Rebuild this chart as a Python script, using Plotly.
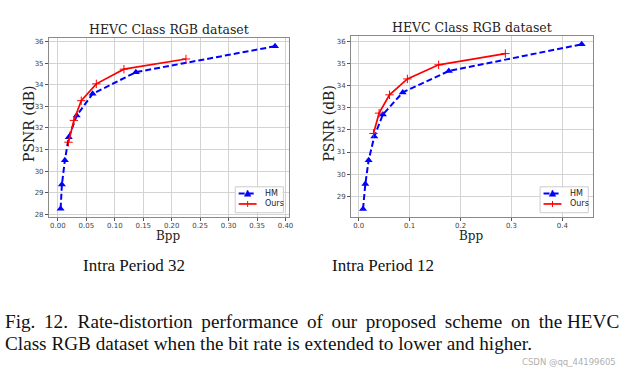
import plotly.graph_objects as go

# Intra Period 32
hm32_bpp = [0.0047, 0.0070, 0.0122, 0.0190, 0.0330, 0.0610, 0.1370, 0.3816]
hm32_psnr = [28.26, 29.38, 30.50, 31.57, 32.57, 33.58, 34.58, 35.78]
ours32_bpp = [0.0186, 0.0280, 0.0410, 0.0675, 0.1160, 0.2250]
ours32_psnr = [31.34, 32.35, 33.26, 34.04, 34.72, 35.19]

# Intra Period 12
hm12_bpp = [0.0085, 0.0130, 0.0195, 0.0306, 0.0475, 0.0865, 0.1770, 0.4380]
hm12_psnr = [28.42, 29.55, 30.63, 31.70, 32.70, 33.70, 34.67, 35.88]
ours12_bpp = [0.0290, 0.0400, 0.0605, 0.0956, 0.1570, 0.2880]
ours12_psnr = [31.84, 32.76, 33.59, 34.31, 34.95, 35.46]

series_names = ["HM", "Ours"]

x32_ticks = [0.00, 0.05, 0.10, 0.15, 0.20, 0.25, 0.30, 0.35, 0.40]
x32_labels = ["0.00", "0.05", "0.10", "0.15", "0.20", "0.25", "0.30", "0.35", "0.40"]
y32_ticks = [28, 29, 30, 31, 32, 33, 34, 35, 36]
x12_ticks = [0.0, 0.1, 0.2, 0.3, 0.4]
x12_labels = ["0.0", "0.1", "0.2", "0.3", "0.4"]
y12_ticks = [29, 30, 31, 32, 33, 34, 35, 36]

W, H = 633, 374
BLUE = "#0000ff"
RED = "#ff0000"

fig = go.Figure()

def add_pair(hx, hy, ox, oy, xa, ya):
    fig.add_trace(go.Scatter(
        x=hx, y=hy, mode="lines+markers", name=series_names[0], xaxis=xa, yaxis=ya,
        showlegend=False,
        line=dict(color=BLUE, width=2, dash="6px,3px"),
        marker=dict(symbol="triangle-up", size=7, color=BLUE)))
    fig.add_trace(go.Scatter(
        x=ox, y=oy, mode="lines+markers", name=series_names[1], xaxis=xa, yaxis=ya,
        showlegend=False,
        line=dict(color=RED, width=1.7),
        marker=dict(symbol="cross-thin", size=6, line=dict(color=RED, width=1))))

add_pair(hm32_bpp, hm32_psnr, ours32_bpp, ours32_psnr, "x", "y")
add_pair(hm12_bpp, hm12_psnr, ours12_bpp, ours12_psnr, "x2", "y2")

tickfont = dict(family="DejaVu Sans", size=7, color="#444")
common = dict(showgrid=True, gridcolor="#d3d3d3", gridwidth=1, showline=True,
              linecolor="#8a8a8a", linewidth=1, mirror=True, ticks="outside",
              ticklen=3, tickcolor="#555", tickfont=tickfont, zeroline=False)

def px_x(p):
    return p / W

def px_y(p):
    return 1 - p / H

fig.update_layout(
    width=W, height=H, margin=dict(l=0, r=0, t=0, b=0),
    paper_bgcolor="white", plot_bgcolor="white", showlegend=False,
    xaxis=dict(domain=[px_x(49.3), px_x(291)], range=[-0.0157, 0.4064],
               tickvals=x32_ticks, ticktext=x32_labels, anchor="y",
               ticklabelstandoff=-2, **common),
    yaxis=dict(domain=[px_y(218), px_y(37.7)], range=[27.86, 36.18],
               tickvals=y32_ticks, anchor="x", **common),
    xaxis2=dict(domain=[px_x(353.3), px_x(596.7)], range=[-0.015, 0.46],
                tickvals=x12_ticks, ticktext=x12_labels, anchor="y2",
                ticklabelstandoff=-2, **common),
    yaxis2=dict(domain=[px_y(217.7), px_y(36)], range=[28.05, 36.26],
                tickvals=y12_ticks, anchor="x2", **common),
)

# Legends (drawn in paper space, matplotlib-style compact box)
shapes = []
ann = []
for bx0 in [236.7, 543.5]:
    bx1 = bx0 + 48.5
    by0, by1 = 187.3, 213.3
    shapes.append(dict(type="rect", xref="paper", yref="paper",
                       x0=px_x(bx0), x1=px_x(bx1), y0=px_y(by1), y1=px_y(by0),
                       line=dict(color="#cccccc", width=1), fillcolor="rgba(255,255,255,0.9)"))
    sx0, sx1 = bx0 + 3.5, bx0 + 21.5
    sm = (sx0 + sx1) / 2
    y1e, y2e = 194.0, 204.5
    shapes.append(dict(type="line", xref="paper", yref="paper",
                       x0=px_x(sx0), x1=px_x(sx1), y0=px_y(y1e), y1=px_y(y1e),
                       line=dict(color=BLUE, width=2, dash="6px,3px")))
    tri = "M {} {} L {} {} L {} {} Z".format(
        px_x(sm - 3.3), px_y(y1e + 2.8), px_x(sm + 3.3), px_y(y1e + 2.8),
        px_x(sm), px_y(y1e - 3.5))
    shapes.append(dict(type="path", xref="paper", yref="paper", path=tri,
                       fillcolor=BLUE, line=dict(color=BLUE, width=0.5)))
    shapes.append(dict(type="line", xref="paper", yref="paper",
                       x0=px_x(sx0), x1=px_x(sx1), y0=px_y(y2e), y1=px_y(y2e),
                       line=dict(color=RED, width=1.7)))
    shapes.append(dict(type="line", xref="paper", yref="paper",
                       x0=px_x(sm), x1=px_x(sm), y0=px_y(y2e - 3), y1=px_y(y2e + 3),
                       line=dict(color=RED, width=1)))
    for name, yy in zip(series_names, [y1e, y2e]):
        ann.append(dict(text=name, x=px_x(bx0 + 28), y=px_y(yy), xref="paper",
                        yref="paper", showarrow=False, xanchor="left", yanchor="middle",
                        font=dict(family="DejaVu Sans", size=8, color="#222")))
fig.update_layout(shapes=shapes)

serif = "DejaVu Serif"
times = "Liberation Serif"
ts = "\u2009"
for cx, cy_top in [(170, 29.3), (475, 27.5)]:
    ann.append(dict(text="HEVC Class RGB dataset", x=px_x(cx), y=px_y(cy_top),
                    xref="paper", yref="paper", showarrow=False,
                    font=dict(family=serif, size=12.5, color="#222"),
                    xanchor="center", yanchor="middle"))
for cx, cy in [(28.5, 124), (331, 124)]:
    ann.append(dict(text="PSNR (dB)", x=px_x(cx), y=px_y(cy), xref="paper", yref="paper",
                    showarrow=False, textangle=-90,
                    font=dict(family=serif, size=14, color="#222"),
                    xanchor="center", yanchor="middle"))
for cx in [170, 475]:
    ann.append(dict(text="Bpp", x=px_x(cx), y=px_y(237), xref="paper", yref="paper",
                    showarrow=False, font=dict(family=serif, size=12, color="#222"),
                    xanchor="center", yanchor="middle"))
for cx, t in [(135, "Intra Period 32"), (385, "Intra Period 12")]:
    ann.append(dict(text=t, x=px_x(cx), y=px_y(266), xref="paper", yref="paper",
                    showarrow=False, font=dict(family=times, size=17, color="#111"),
                    xanchor="center", yanchor="middle"))
line1 = ("Fig." + ts + " 12.  Rate-distortion" + ts + " performance" + ts + " of" + ts +
         " our" + ts + " proposed" + ts + " scheme" + ts + " on" + ts + " the HEVC")
ann.append(dict(text=line1,
                x=px_x(3), y=px_y(322), xref="paper", yref="paper", showarrow=False,
                font=dict(family=times, size=19.2, color="#111"),
                xanchor="left", yanchor="middle"))
ann.append(dict(text="Class RGB dataset when the bit rate is extended to lower and higher.",
                x=px_x(3), y=px_y(344), xref="paper", yref="paper", showarrow=False,
                font=dict(family=times, size=19.2, color="#111"),
                xanchor="left", yanchor="middle"))
ann.append(dict(text="CSDN @qq_44199605", x=px_x(622), y=px_y(363), xref="paper", yref="paper",
                showarrow=False, font=dict(family="DejaVu Sans", size=8.5, color="#b0b0b0"),
                xanchor="right", yanchor="middle"))
fig.update_layout(annotations=ann)

fig.write_html("out.html", config={"displayModeBar": False},
               post_script="document.body.style.margin='0';")
